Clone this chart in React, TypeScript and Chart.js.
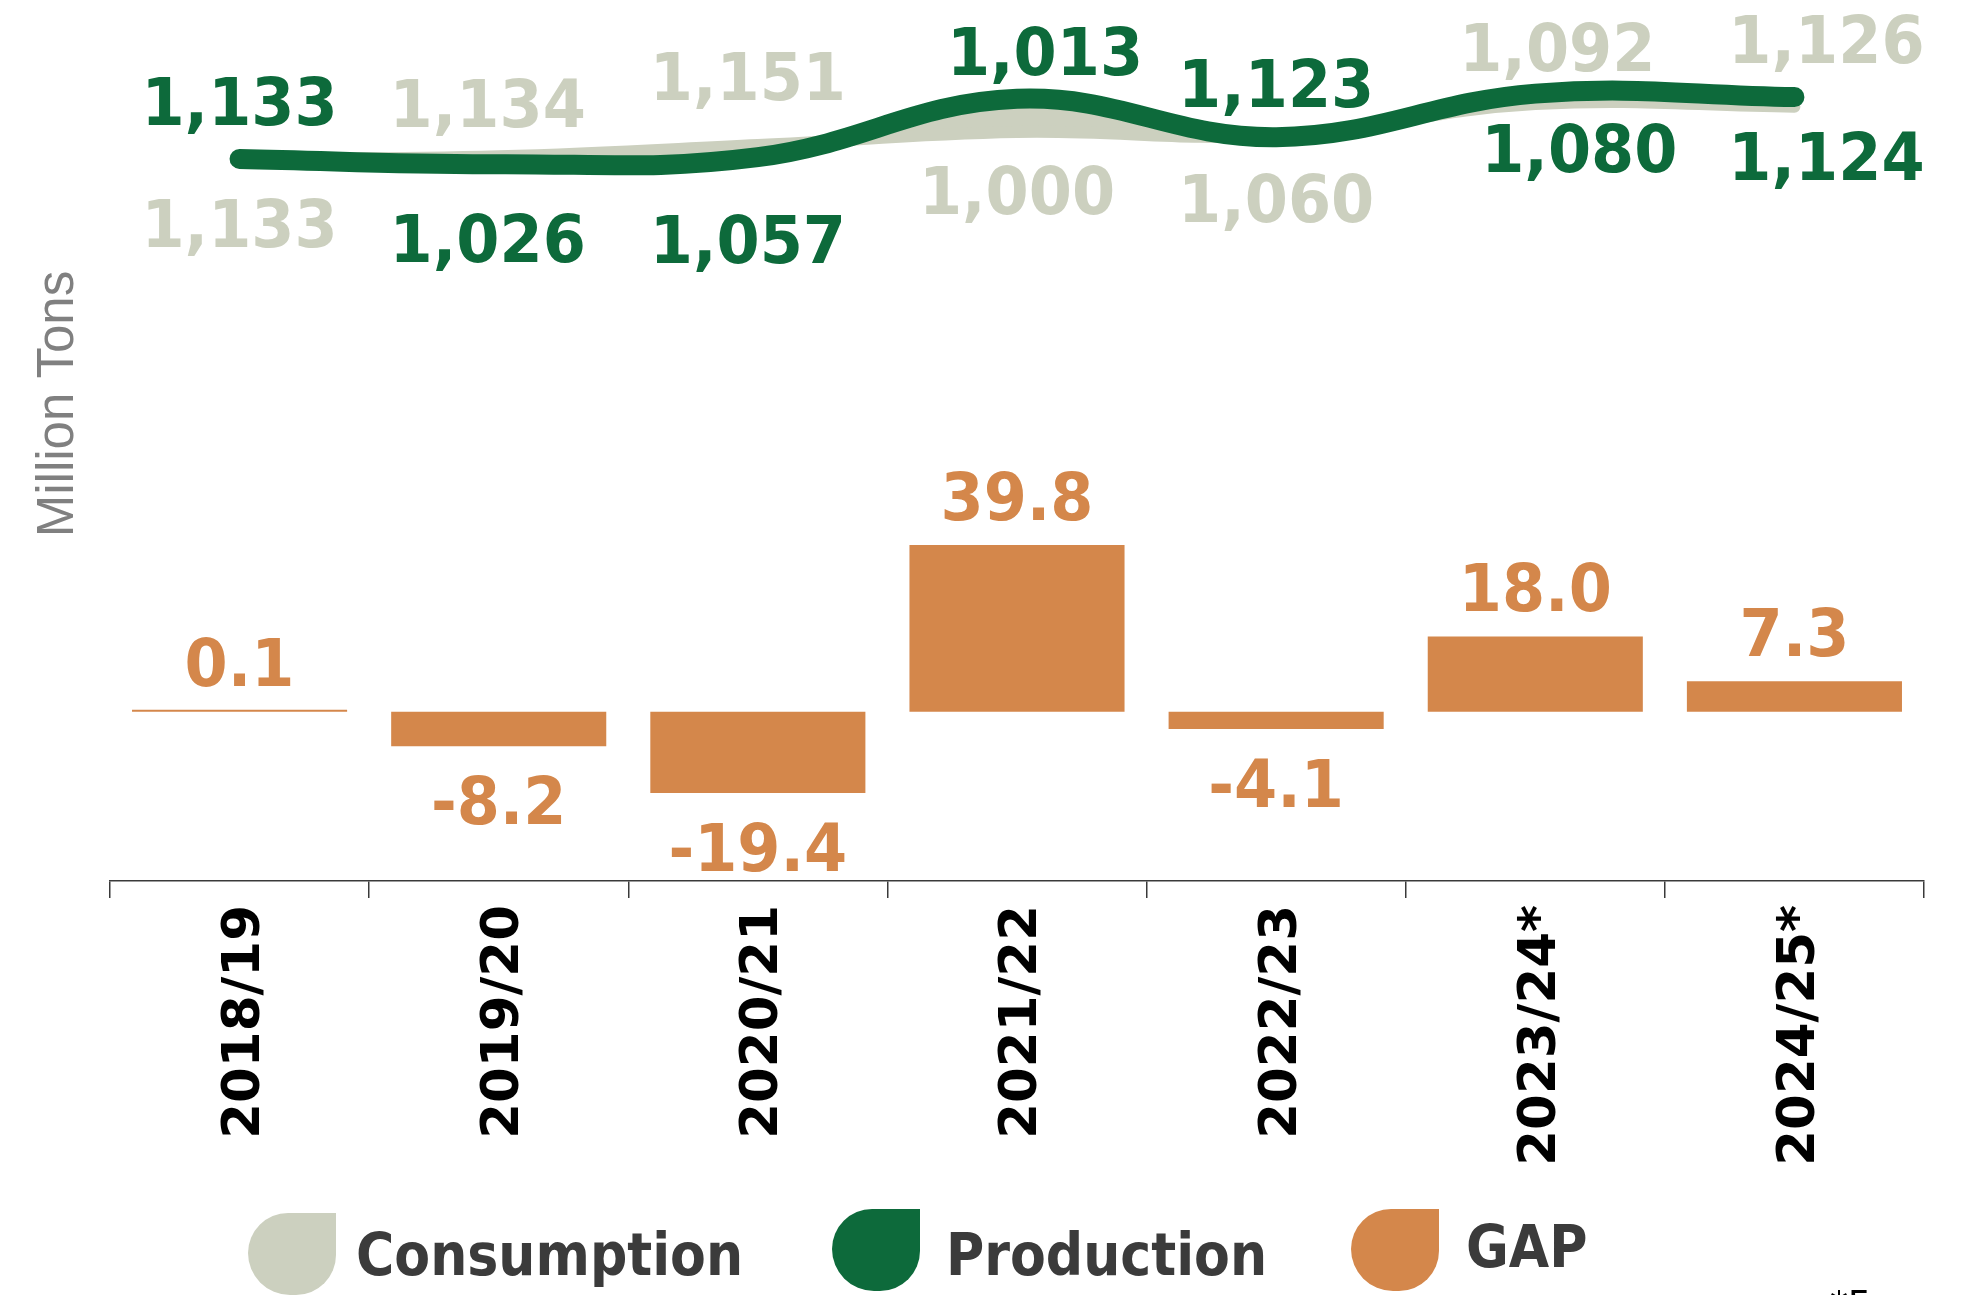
import React, { useEffect, useRef } from "react";
import { Chart, registerables } from "chart.js";

Chart.register(...registerables);

// ---------- data ----------
const categories = ["2018/19", "2019/20", "2020/21", "2021/22", "2022/23", "2023/24*", "2024/25*"];
const gap = [0.1, -8.2, -19.4, 39.8, -4.1, 18.0, 7.3];
const productionLabels = [1133, 1026, 1057, 1013, 1123, 1080, 1124];
const consumptionLabels = [1133, 1134, 1151, 1000, 1060, 1092, 1126];
// heights of the two curves as they are drawn in the picture (relative 0-100 scale);
// the printed figures above do not follow the drawn curves
const productionCurve = [82.9, 82.3, 83.1, 89.8, 85.4, 90.4, 90.0];
const consumptionCurve = [82.9, 83.2, 84.5, 86.0, 85.6, 89.2, 88.9];
const legendItems = ["Consumption", "Production", "GAP"];

// ---------- styles / layout ----------
const GREEN = "#0d6a3b";
const GRAY = "#ccd0bf";
const ORANGE = "#d4874b";
const LABEL_FONT = 'bold 66px "DejaVu Sans", sans-serif';
const LABEL_SX = 0.94; // horizontal squeeze of the value labels
// which series label sits on top for each category (true: production on top)
const PROD_ON_TOP = [true, false, false, true, true, false, false];
// label placement relative to category centre (dx) and chart-area top (y of baseline)
const TOP_DX = [0, -11, -10, 28, 0, 22, 32];
const TOP_Y = [115, 117, 90, 65, 97, 61, 53];
const BOT_DX = [0, -11, -10, 0, 0, 44, 32];
const BOT_Y = [237, 252, 253, 204, 212, 162, 170];

function squeezedText(ctx: CanvasRenderingContext2D, txt: string, x: number, y: number) {
  ctx.save();
  ctx.translate(x, y);
  ctx.scale(LABEL_SX, 1);
  ctx.fillText(txt, 0, 0);
  ctx.restore();
}

const labelPlugin = {
  id: "customLabels",
  afterDatasetsDraw(chart: any) {
    const ctx = chart.ctx as CanvasRenderingContext2D;
    const xs = chart.scales.x;
    const ys = chart.scales.y;
    const top = chart.chartArea.top;
    ctx.save();
    ctx.font = LABEL_FONT;
    ctx.textAlign = "center";
    ctx.textBaseline = "alphabetic";
    categories.forEach((_, i) => {
      const cx = xs.getPixelForValue(i);
      const prodTxt = productionLabels[i].toLocaleString("en-US");
      const consTxt = consumptionLabels[i].toLocaleString("en-US");
      const topTxt = PROD_ON_TOP[i] ? prodTxt : consTxt;
      const botTxt = PROD_ON_TOP[i] ? consTxt : prodTxt;
      ctx.fillStyle = PROD_ON_TOP[i] ? GREEN : GRAY;
      squeezedText(ctx, topTxt, cx + TOP_DX[i], top + TOP_Y[i]);
      ctx.fillStyle = PROD_ON_TOP[i] ? GRAY : GREEN;
      squeezedText(ctx, botTxt, cx + BOT_DX[i], top + BOT_Y[i]);
      // gap labels
      const v = gap[i];
      const py = ys.getPixelForValue(v);
      ctx.fillStyle = ORANGE;
      squeezedText(ctx, v.toFixed(1), cx, v >= 0 ? py - 25 : py + 78);
    });
    ctx.restore();
  },
  afterDraw(chart: any) {
    const ctx = chart.ctx as CanvasRenderingContext2D;
    ctx.save();
    // axis title
    ctx.translate(73, 404);
    ctx.rotate(-Math.PI / 2);
    ctx.font = '51px "Liberation Sans", Arial, sans-serif';
    ctx.fillStyle = "#808080";
    ctx.textAlign = "center";
    ctx.textBaseline = "alphabetic";
    ctx.fillText("Million Tons", 0, 0);
    ctx.restore();

    // legend
    const markers = [
      { x: 248, y: 1213, color: GRAY, tx: 356, ty: 1275 },
      { x: 832, y: 1209, color: GREEN, tx: 946, ty: 1275 },
      { x: 1351, y: 1209, color: ORANGE, tx: 1466, ty: 1267 },
    ];
    ctx.save();
    legendItems.forEach((name, i) => {
      const m = markers[i];
      const w = 88, h = 82;
      ctx.fillStyle = m.color;
      ctx.beginPath();
      (ctx as any).roundRect(m.x, m.y, w, h, [40, 0, 40, 42]);
      ctx.fill();
      ctx.fillStyle = "#3b3b3b";
      ctx.font = 'bold 58px "DejaVu Sans Condensed", "DejaVu Sans", sans-serif';
      ctx.textAlign = "left";
      ctx.textBaseline = "alphabetic";
      ctx.fillText(name, m.tx, m.ty);
    });
    // footnote (cut at the bottom edge)
    ctx.fillStyle = "#000";
    ctx.font = '36px "DejaVu Sans", sans-serif';
    ctx.fillText("*Forecast", 1830, 1316);
    ctx.restore();
  },
};

export default function App() {
  const ref = useRef<HTMLCanvasElement>(null);
  useEffect(() => {
    const chart = new Chart(ref.current as HTMLCanvasElement, {
      type: "bar",
      data: {
        labels: categories,
        datasets: [
          {
            type: "bar",
            label: "GAP",
            data: gap,
            yAxisID: "y",
            backgroundColor: ORANGE,
            barPercentage: 0.83,
            categoryPercentage: 1,
            minBarLength: 2,
            order: 3,
          } as any,
          {
            type: "line",
            label: "Production",
            data: productionCurve,
            yAxisID: "y2",
            borderColor: GREEN,
            borderWidth: 20,
            tension: 0.4,
            pointRadius: 0,
            borderCapStyle: "round",
            borderJoinStyle: "round",
            fill: false,
            order: 1,
          } as any,
          {
            type: "line",
            label: "Consumption",
            data: consumptionCurve,
            yAxisID: "y2",
            borderColor: GRAY,
            backgroundColor: GRAY,
            borderWidth: 12,
            tension: 0.4,
            pointRadius: 0,
            borderCapStyle: "round",
            fill: 1,
            order: 2,
          } as any,
        ],
      },
      options: {
        responsive: false,
        devicePixelRatio: 1,
        animation: false,
        layout: { padding: { left: 110, right: 41, top: 10, bottom: 0 } },
        plugins: {
          legend: { display: false },
          tooltip: { enabled: false },
        },
        scales: {
          x: {
            type: "category",
            offset: true,
            grid: {
              display: true,
              drawOnChartArea: false,
              drawTicks: true,
              tickLength: 17,
              color: "#3a3a3a",
              lineWidth: 1.5,
              offset: true,
            },
            border: { display: true, color: "#3a3a3a", width: 1.5 },
            ticks: {
              color: "#000",
              font: { family: "DejaVu Sans", size: 51.5, weight: "bold" },
              maxRotation: 90,
              minRotation: 90,
              padding: 7,
              labelOffset: 6,
              autoSkip: false,
            },
            afterFit: (s: any) => {
              s.height = 414;
            },
          } as any,
          y: { display: false, min: -40.38, max: 167.5 },
          y2: { display: false, min: 0, max: 100 },
        },
      } as any,
      plugins: [labelPlugin],
    });
    return () => chart.destroy();
  }, []);
  return (
    <div style={{ position: "absolute", left: 0, top: 0, width: 1965, height: 1295, background: "#fff" }}>
      <canvas ref={ref} width={1965} height={1295} style={{ width: 1965, height: 1295, display: "block" }} />
    </div>
  );
}
